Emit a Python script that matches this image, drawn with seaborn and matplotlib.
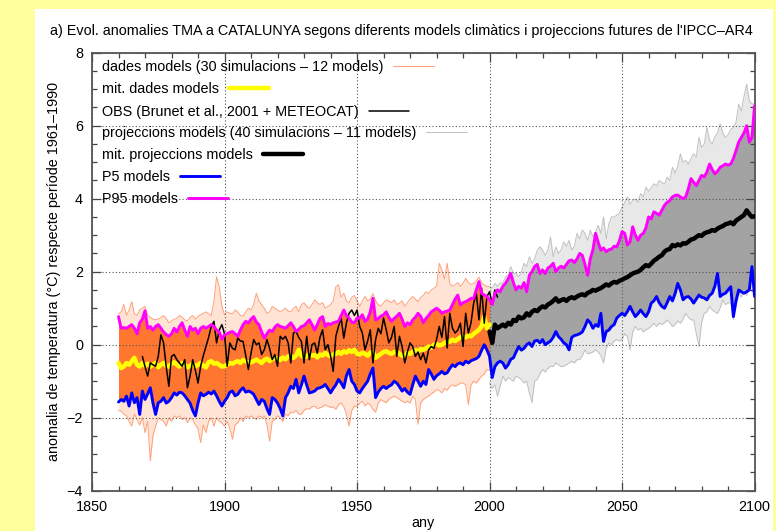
import matplotlib
matplotlib.use("Agg")
import matplotlib.pyplot as plt
import numpy as np
import seaborn as sns
from matplotlib.legend import Legend
from matplotlib.patches import Rectangle
from matplotlib.ticker import MultipleLocator

# ---------------------------------------------------------------- data
hist_years = list(range(1860, 2001))      # model runs over the observed period
proj_years = list(range(2000, 2101))      # IPCC-AR4 projections
all_years = list(range(1860, 2101))       # percentile curves
obs_years = list(range(1869, 2004))       # observed series

# 95th percentile of all model runs (1860-2100)
p95 = [
    0.77, 0.45, 0.47, 0.45, 0.50, 0.55, 0.45, 0.30, 0.60, 0.70,
    0.93, 0.45, 0.50, 0.40, 0.50, 0.55, 0.45, 0.35, 0.28, 0.23,
    0.30, 0.45, 0.35, 0.50, 0.60, 0.40, 0.23, 0.50, 0.40, 0.45,
    0.30, 0.45, 0.50, 0.45, 0.50, 0.55, 0.50, 0.40, 0.35, 0.15,
    0.27, 0.30, 0.34, 0.36, 0.30, 0.23, 0.40, 0.55, 0.64, 0.60,
    0.70, 0.77, 0.62, 0.55, 0.35, 0.18, 0.30, 0.40, 0.36, 0.48,
    0.55, 0.50, 0.48, 0.45, 0.52, 0.60, 0.50, 0.36, 0.42, 0.50,
    0.52, 0.60, 0.68, 0.55, 0.40, 0.55, 0.72, 0.77, 0.50, 0.58,
    0.55, 0.60, 0.62, 0.64, 0.80, 0.95, 0.80, 0.73, 0.62, 0.60,
    0.73, 0.73, 0.82, 0.64, 0.70, 0.90, 1.27, 0.68, 0.72, 0.78,
    0.82, 0.90, 0.75, 0.64, 0.72, 0.78, 0.86, 0.70, 0.50, 0.60,
    0.55, 0.68, 0.75, 0.86, 0.78, 0.60, 0.72, 0.80, 0.90, 0.95,
    1.00, 0.95, 0.86, 0.90, 0.92, 0.95, 1.10, 1.25, 1.36, 1.09,
    1.15, 1.18, 1.22, 1.27, 1.27, 1.50, 1.73, 1.41, 1.36, 1.32,
    1.23, 1.10, 1.40, 1.50, 1.45, 1.60, 1.68, 1.80, 1.95, 1.70,
    1.50, 1.60, 1.55, 1.70, 1.45, 1.90, 2.00, 2.14, 2.20, 1.95,
    2.05, 1.95, 2.10, 2.15, 2.23, 2.00, 2.10, 2.15, 2.10, 2.20,
    2.30, 2.32, 2.25, 2.35, 2.50, 2.45, 2.20, 1.90, 2.35, 2.60,
    3.05, 2.80, 2.59, 2.65, 2.55, 2.60, 2.62, 2.70, 2.68, 2.85,
    3.10, 3.05, 2.73, 2.82, 3.23, 3.00, 2.86, 3.00, 3.05, 3.20,
    3.50, 3.45, 3.64, 3.60, 3.55, 3.68, 3.82, 3.90, 3.95, 4.05,
    4.09, 4.10, 4.05, 4.00, 4.05, 4.27, 4.55, 4.45, 4.36, 4.50,
    4.64, 4.60, 4.73, 4.95, 4.80, 4.68, 4.75, 4.86, 4.90, 4.95,
    4.92, 4.95, 5.10, 5.32, 5.55, 5.68, 5.80, 6.00, 5.55, 5.68,
    6.55,
]

# 5th percentile of all model runs (1860-2100)
p5 = [
    -1.57, -1.50, -1.55, -1.41, -1.68, -1.32, -1.59, -1.45, -1.91, -1.27,
    -1.50, -1.35, -1.18, -1.60, -1.91, -1.59, -1.55, -1.45, -1.60, -1.55,
    -1.45, -1.32, -1.38, -1.30, -1.32, -1.40, -1.50, -1.60, -1.80, -1.95,
    -1.60, -1.32, -1.40, -1.36, -1.30, -1.35, -1.27, -1.40, -1.55, -1.68,
    -1.55, -1.45, -1.30, -1.27, -1.40, -1.36, -1.25, -1.18, -1.30, -1.27,
    -1.30, -1.36, -1.50, -1.64, -1.50, -1.55, -1.75, -1.91, -1.45, -1.50,
    -1.60, -1.75, -1.95, -1.45, -1.32, -1.14, -1.20, -0.95, -1.32, -1.10,
    -0.86, -1.10, -1.32, -1.30, -1.27, -1.20, -1.18, -1.15, -1.09, -1.20,
    -1.32, -1.20, -1.10, -0.95, -1.05, -1.18, -0.85, -0.68, -1.00, -1.09,
    -1.27, -1.32, -1.20, -1.10, -1.00, -0.80, -0.64, -1.45, -1.30, -1.20,
    -1.14, -1.20, -1.14, -1.10, -1.00, -1.05, -1.15, -1.27, -1.20, -1.30,
    -1.36, -1.10, -0.86, -1.00, -1.14, -1.00, -1.09, -0.68, -0.80, -0.95,
    -0.85, -0.80, -0.73, -0.80, -0.77, -0.65, -0.55, -0.60, -0.52, -0.50,
    -0.55, -0.45, -0.50, -0.44, -0.41, -0.38, -0.32, -0.15, 0.00, -0.14,
    -0.32, -0.90, -0.60, -0.50, -0.45, -0.50, -0.64, -0.55, -0.40, -0.36,
    -0.20, -0.05, -0.15, -0.10, 0.00, 0.05, -0.05, 0.10, 0.12, 0.05,
    0.14, 0.00, 0.05, 0.10, 0.20, 0.36, 0.22, 0.15, 0.05, 0.00,
    -0.14, 0.20, 0.25, 0.27, 0.30, 0.35, 0.50, 0.68, 0.60, 0.45,
    0.55, 0.50, 0.86, 0.09, 0.36, 0.40, 0.50, 0.55, 0.73, 0.80,
    0.86, 0.80, 0.91, 1.05, 0.90, 0.77, 0.85, 0.95, 0.85, 0.77,
    0.90, 1.14, 1.20, 1.32, 1.15, 1.05, 1.00, 1.15, 1.32, 1.20,
    1.40, 1.68, 1.50, 1.23, 1.30, 1.32, 1.25, 1.14, 1.25, 1.36,
    1.30, 1.28, 1.23, 1.35, 1.41, 1.60, 1.95, 1.32, 1.38, 1.41,
    1.50, 1.59, 0.77, 1.20, 1.50, 1.45, 1.41, 1.45, 1.50, 2.14,
    1.32,
]

# highest / lowest of the 30 historical simulations (1860-2000)
hist_max = [
    0.85, 0.90, 1.10, 0.80, 0.95, 1.18, 0.85, 0.80, 0.95, 1.00,
    1.05, 0.80, 0.75, 0.70, 0.68, 0.70, 0.75, 0.80, 0.72, 0.60,
    0.65, 0.70, 0.72, 0.80, 0.75, 0.68, 0.65, 0.75, 0.80, 0.70,
    0.78, 0.82, 0.86, 0.90, 0.85, 0.80, 1.20, 1.86, 1.59, 1.05,
    0.82, 0.90, 0.86, 0.85, 0.95, 0.90, 0.80, 0.78, 0.90, 1.00,
    0.95, 1.10, 1.41, 1.20, 1.10, 1.00, 0.86, 0.90, 1.05, 1.00,
    0.95, 0.90, 0.95, 1.00, 0.92, 0.90, 1.00, 1.05, 0.90, 1.10,
    1.15, 1.05, 1.00, 1.10, 1.23, 1.15, 1.10, 1.15, 1.00, 1.05,
    1.10, 1.20, 1.59, 1.64, 1.30, 1.41, 1.20, 1.15, 1.30, 1.35,
    1.20, 1.05, 1.20, 1.32, 1.20, 1.25, 1.40, 1.20, 1.10, 1.05,
    1.15, 1.23, 1.20, 1.15, 1.23, 1.10, 1.14, 1.20, 1.05, 1.15,
    1.25, 1.32, 1.25, 1.18, 1.30, 1.35, 1.45, 1.40, 1.50, 1.55,
    1.60, 2.23, 2.05, 1.80, 2.23, 1.68, 1.60, 1.64, 1.70, 1.60,
    1.68, 1.82, 1.70, 1.65, 1.68, 1.75, 1.85, 1.70, 1.64, 1.59,
    1.60,
]
hist_min = [
    -1.80, -1.82, -1.90, -1.95, -2.10, -2.23, -1.90, -2.05, -2.20, -2.00,
    -2.41, -2.10, -3.18, -2.50, -2.23, -2.00, -2.05, -2.10, -2.23, -2.00,
    -2.10, -1.95, -2.00, -1.95, -2.05, -2.00, -2.14, -2.00, -2.05, -2.20,
    -2.30, -2.68, -2.20, -2.41, -2.10, -2.00, -2.23, -2.00, -2.10, -2.14,
    -2.23, -2.10, -2.30, -2.59, -2.20, -2.14, -2.00, -2.10, -1.95, -2.00,
    -1.95, -2.00, -2.05, -1.95, -2.00, -1.95, -2.20, -2.64, -2.10, -2.05,
    -1.95, -2.00, -2.10, -1.90, -1.95, -1.85, -1.86, -1.80, -1.90, -1.91,
    -1.80, -1.75, -1.77, -1.70, -1.68, -1.75, -1.73, -1.70, -1.65, -1.68,
    -1.72, -1.70, -1.77, -1.65, -1.59, -1.70, -1.90, -2.23, -1.80, -1.68,
    -1.70, -1.60, -1.55, -1.68, -1.60, -1.65, -1.77, -1.85, -1.60, -1.50,
    -1.55, -1.59, -1.50, -1.45, -1.41, -1.45, -1.50, -1.55, -1.59, -1.55,
    -1.60, -1.41, -1.50, -2.18, -1.60, -1.50, -1.45, -1.41, -1.35, -1.30,
    -1.23, -1.25, -1.32, -1.20, -1.25, -1.14, -1.10, -1.14, -1.10, -1.05,
    -1.05, -1.10, -1.64, -1.10, -1.00, -1.05, -0.95, -0.86, -0.80, -0.68,
    -0.70,
]

# highest / lowest of the 40 projection runs (2000-2100)
proj_max = [
    1.60, 1.55, 1.68, 1.60, 1.70, 1.68, 1.86, 1.90, 2.14, 1.95,
    1.95, 1.86, 2.00, 2.23, 2.14, 2.41, 2.23, 2.35, 2.59, 2.68,
    2.59, 2.45, 2.60, 2.95, 2.41, 2.68, 2.50, 2.60, 2.82, 2.70,
    2.86, 2.59, 2.70, 3.05, 2.90, 3.14, 3.05, 2.86, 3.14, 2.95,
    3.10, 3.27, 3.05, 3.50, 2.90, 3.30, 3.50, 3.50, 3.55, 3.60,
    3.77, 3.90, 4.05, 3.85, 3.95, 4.00, 3.90, 4.14, 4.05, 4.32,
    4.20, 4.30, 4.41, 4.35, 4.50, 4.45, 4.40, 4.59, 4.50, 4.86,
    4.70, 4.90, 5.23, 5.00, 5.05, 4.95, 5.10, 5.23, 5.15, 5.68,
    5.40, 5.50, 5.95, 5.60, 5.50, 5.70, 5.80, 6.05, 5.80, 5.68,
    5.75, 5.90, 5.95, 6.10, 6.59, 6.40, 6.80, 7.14, 6.68, 6.60,
    6.59,
]
proj_min = [
    -1.05, -1.20, -1.10, -1.41, -1.14, -0.86, -1.00, -0.90, -0.95, -1.00,
    -0.86, -0.90, -0.95, -1.05, -1.00, -1.32, -1.59, -1.00, -0.95, -0.80,
    -0.68, -0.75, -0.65, -0.59, -0.60, -0.50, -0.55, -0.60, -0.59, -0.55,
    -0.50, -0.45, -0.50, -0.41, -0.41, -0.30, -0.14, -0.25, -0.23, -0.20,
    -0.14, -0.20, -0.30, -0.50, -0.10, 0.05, 0.00, 0.10, 0.14, 0.10,
    0.14, 0.30, 0.23, -0.14, 0.35, 0.50, 0.40, 0.45, 0.35, 0.41,
    0.45, 0.50, 0.59, 0.50, 0.59, 0.55, 0.60, 0.68, 0.60, 0.50,
    0.55, 0.65, 0.59, 0.70, 0.86, 0.75, 0.68, 0.68, 0.30, -0.05,
    0.60, 0.86, 0.90, 1.05, 0.95, 0.90, 0.86, 1.00, 1.23, 1.10,
    1.15, 1.14, 0.70, 1.20, 1.41, 1.30, 1.50, 1.35, 1.59, 1.45,
    1.50,
]

# ensemble mean of the historical simulations (1860-2000)
mean_hist = [
    -0.50, -0.64, -0.60, -0.50, -0.55, -0.45, -0.36, -0.55, -0.60, -0.50,
    -0.58, -0.52, -0.60, -0.55, -0.50, -0.62, -0.55, -0.50, -0.58, -0.60,
    -0.52, -0.48, -0.55, -0.60, -0.50, -0.55, -0.62, -0.58, -0.52, -0.60,
    -0.55, -0.50, -0.58, -0.62, -0.48, -0.45, -0.52, -0.50, -0.55, -0.60,
    -0.59, -0.55, -0.50, -0.52, -0.48, -0.45, -0.50, -0.42, -0.45, -0.50,
    -0.48, -0.45, -0.41, -0.45, -0.50, -0.42, -0.38, -0.45, -0.40, -0.36,
    -0.38, -0.42, -0.35, -0.40, -0.32, -0.30, -0.36, -0.30, -0.14, -0.30,
    -0.35, -0.32, -0.25, -0.30, -0.28, -0.35, -0.27, -0.30, -0.22, -0.28,
    -0.32, -0.27, -0.25, -0.20, -0.25, -0.18, -0.22, -0.15, -0.20, -0.14,
    -0.25, -0.27, -0.22, -0.25, -0.30, -0.22, -0.20, -0.36, -0.30, -0.25,
    -0.20, -0.18, -0.22, -0.25, -0.20, -0.18, -0.25, -0.30, -0.32, -0.22,
    -0.25, -0.20, -0.15, -0.18, -0.12, -0.14, -0.10, -0.05, -0.08, 0.00,
    0.02, -0.02, 0.00, 0.05, 0.10, 0.08, 0.14, 0.10, 0.15, 0.20,
    0.23, 0.20, 0.25, 0.23, 0.30, 0.35, 0.41, 0.50, 0.77, 0.45,
    0.55,
]

# ensemble mean of the projections (2000-2100)
mean_proj = [
    0.36, 0.05, 0.55, 0.45, 0.50, 0.55, 0.50, 0.60, 0.55, 0.68,
    0.65, 0.77, 0.72, 0.75, 0.86, 0.80, 0.90, 0.95, 0.92, 1.00,
    1.05, 1.02, 1.10, 1.14, 1.20, 1.27, 1.18, 1.22, 1.25, 1.20,
    1.27, 1.30, 1.27, 1.32, 1.36, 1.38, 1.35, 1.42, 1.45, 1.50,
    1.48, 1.52, 1.55, 1.60, 1.65, 1.62, 1.68, 1.72, 1.70, 1.75,
    1.78, 1.82, 1.85, 1.90, 1.95, 1.98, 2.00, 2.05, 2.12, 2.18,
    2.15, 2.22, 2.30, 2.35, 2.41, 2.45, 2.55, 2.60, 2.62, 2.73,
    2.70, 2.75, 2.72, 2.78, 2.77, 2.82, 2.88, 2.90, 2.95, 3.00,
    2.98, 3.05, 3.08, 3.10, 3.14, 3.12, 3.18, 3.22, 3.25, 3.30,
    3.32, 3.35, 3.30, 3.40, 3.45, 3.50, 3.55, 3.68, 3.58, 3.50,
    3.52,
]

# observations: Brunet et al. (2001) + METEOCAT (1869-2003)
obs = [
    -0.32,
    -0.60, -0.86, -0.50, -0.55, -0.59, -0.32, 0.27, 0.05, -0.60, -1.14,
    -0.32, -0.27, -0.41, -0.50, -0.59, -0.41, -1.18, -0.86, -0.41, -0.70,
    -1.05, -0.59, -0.30, -0.05, 0.20, 0.50, 0.64, 0.05, 0.40, 0.55,
    0.30, -0.59, 0.05, -0.10, -0.14, 0.18, 0.10, 0.09, -0.30, -0.68,
    -0.23, 0.14, 0.00, 0.05, -0.27, -0.14, 0.14, -0.10, -0.41, -0.27,
    -0.59, 0.23, 0.15, 0.23, 0.05, -0.50, 0.32, 0.36, 0.20, 0.09,
    -0.50, 0.23, -0.41, 0.00, 0.05, -0.23, 0.20, 0.41, -0.14, 0.00,
    -0.30, -0.73, 0.23, 0.50, 0.73, 0.18, 0.60, 0.86, 0.95, 0.80,
    0.95, 0.50, 0.32, -0.14, 0.10, 0.41, -0.50, 0.14, 0.45, 0.30,
    0.73, 0.41, 0.05, 0.20, 0.50, -0.32, 0.23, -0.05, -0.50, -0.20,
    0.05, -0.05, -0.32, -0.20, -0.41, -0.23, -0.50, -0.14, -0.05, -0.10,
    0.14, 0.50, 0.20, 0.77, -0.09, 0.86, 0.45, 0.32, 0.40, 0.59,
    -0.05, 0.86, 0.32, 0.60, 1.14, 1.41, 0.68, 1.55, 0.59, 1.32,
    1.45, 1.10, 1.50, 1.30,
]

labels = [
    "dades models (30 simulacions – 12 models)",
    "mit. dades models",
    "OBS (Brunet et al., 2001 + METEOCAT)",
    "projeccions models (40 simulacions – 11 models)",
    "mit. projeccions models",
    "P5 models",
    "P95 models",
]
title = ("a) Evol. anomalies TMA a CATALUNYA segons diferents models "
         "climàtics i projeccions futures de l'IPCC–AR4")
ylabel = "anomalia de temperatura (°C) respecte període 1961–1990"
xlabel = "any"
xticks = [1850, 1900, 1950, 2000, 2050, 2100]
yticks = [-4, -2, 0, 2, 4, 6, 8]

for name, seq, ref in [("p95", p95, all_years), ("p5", p5, all_years),
                       ("hist_max", hist_max, hist_years), ("hist_min", hist_min, hist_years),
                       ("proj_max", proj_max, proj_years), ("proj_min", proj_min, proj_years),
                       ("mean_hist", mean_hist, hist_years), ("mean_proj", mean_proj, proj_years),
                       ("obs", obs, obs_years)]:
    assert len(seq) == len(ref), (name, len(seq), len(ref))

# ---------------------------------------------------------------- style
sns.set_theme(style="white")
plt.rcParams["font.family"] = ["Liberation Sans", "DejaVu Sans"]
plt.rcParams.update({
    "text.color": "black", "axes.labelcolor": "black",
    "xtick.color": "black", "ytick.color": "black",
})
FS = 10.4

W, H = 776, 531
fig = plt.figure(figsize=(W / 100, H / 100), dpi=100, facecolor="#ffff9e")
fig.patches.append(Rectangle((35 / W, 0), (773 - 35) / W, 1 - 9 / H,
                             transform=fig.transFigure, facecolor="white",
                             edgecolor="none", zorder=-10))
ax = fig.add_axes([92 / W, 1 - 490.7 / H, (754.6 - 92) / W, (490.7 - 52.7) / H])
ax.set_facecolor("white")

n_hist = len(hist_years)

# spread of the simulations: pale outer envelope, dense 5-95 % core
ax.fill_between(hist_years, hist_min, hist_max, color="#ffe3d5", lw=0, zorder=0.6)
ax.fill_between(hist_years, p5[:n_hist], p95[:n_hist], color="#ff7630", lw=0, zorder=0.7)
ax.fill_between(proj_years, proj_min, proj_max, color="#e8e8e8", lw=0, zorder=0.6)
ax.fill_between(proj_years, p5[n_hist - 1:], p95[n_hist - 1:], color="#a3a3a3", lw=0, zorder=0.7)


def line(x, y, color, lw, z):
    sns.lineplot(x=x, y=y, ax=ax, color=color, linewidth=lw, estimator=None,
                 sort=False, zorder=z, legend=False)
    return ax.lines[-1]


h_sim = line(hist_years, hist_max, "#ffa07a", 0.7, 1.0)
line(hist_years, hist_min, "#ffa07a", 0.7, 1.0)
h_proj = line(proj_years, proj_max, "#c0c0c0", 0.7, 1.0)
line(proj_years, proj_min, "#c0c0c0", 0.7, 1.0)

h_mean_hist = line(hist_years, mean_hist, "#ffff00", 3.2, 3.0)
h_obs = line(obs_years, obs, "black", 1.1, 3.2)
h_mean_proj = line(proj_years, mean_proj, "black", 3.2, 3.4)
h_p5 = line(all_years, p5, "#0000ff", 2.1, 3.6)
h_p95 = line(all_years, p95, "#ff00ff", 2.1, 3.6)

# ---------------------------------------------------------------- axes
ax.set_xlim(1850, 2100)
ax.set_ylim(-4, 8)
ax.set_xticks(xticks)
ax.set_yticks(yticks)
ax.xaxis.set_minor_locator(MultipleLocator(10))
ax.yaxis.set_minor_locator(MultipleLocator(0.5))
ax.tick_params(which="both", direction="in", top=True, right=True,
               bottom=True, left=True, labelsize=FS, width=0.9, color="#444444")
ax.tick_params(which="major", length=6.5)
ax.tick_params(which="minor", length=3.6)
ax.tick_params(axis="x", pad=6.5)
ax.tick_params(axis="y", pad=6.5)
ax.set_axisbelow("line")
ax.grid(True, which="major", color="#555555", linestyle=(0, (1, 2)), linewidth=0.8)
for sp in ax.spines.values():
    sp.set_color("#555555")
    sp.set_linewidth(1.3)

ax.set_ylabel(ylabel, fontsize=FS)
ax.yaxis.set_label_coords(-0.047, 0.5)
ax.set_xlabel(xlabel, fontsize=FS)
ax.xaxis.set_label_coords(0.5, -0.058)

fig.text(50 / W, 1 - 31 / H, title, ha="left", va="center", fontsize=FS)

# ---------------------------------------------------------------- key
handles = [h_sim, h_mean_hist, h_obs, h_proj, h_mean_proj, h_p5, h_p95]
rows_px = [67.3, 89.3, 111.7, 133.3, 155.0, 176.7, 199.3]
for h, lab, ypx in zip(handles, labels, rows_px):
    leg = Legend(ax, [h], [lab], loc="center left",
                 bbox_to_anchor=(0.0146, (490.7 - ypx) / 438.0),
                 bbox_transform=ax.transAxes, markerfirst=False, frameon=False,
                 borderpad=0, borderaxespad=0, handlelength=2.8,
                 handletextpad=0.7, fontsize=FS)
    ax.add_artist(leg)

fig.savefig("out.png", dpi=100, facecolor=fig.get_facecolor())
